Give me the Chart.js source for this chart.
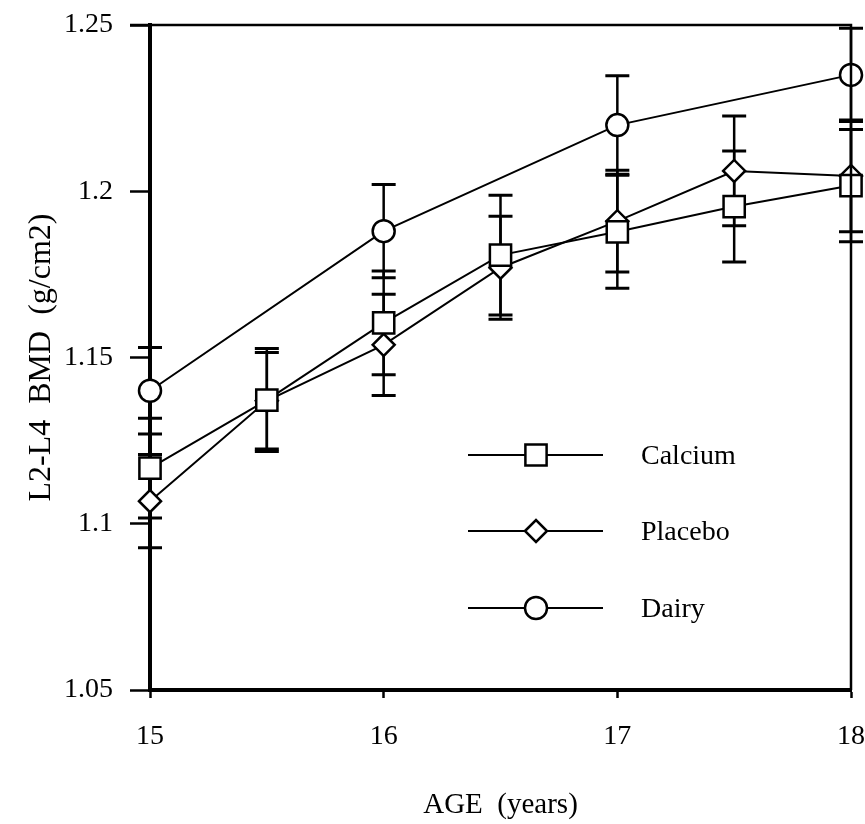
<!DOCTYPE html>
<html>
<head>
<meta charset="utf-8">
<script src="https://cdn.jsdelivr.net/npm/chart.js@4"></script>
<style>
  html, body { margin: 0; padding: 0; background: #fff; }
  #wrap { width: 865px; height: 824px; }
</style>
</head>
<body>
<div id="wrap"><canvas id="bmdChart" width="865" height="824"></canvas></div>
<script>
// values (age in years, L2-L4 BMD in g/cm2, +/- SE)
const ages = [15, 15.5, 16, 16.5, 17, 17.5, 18];
const dairyAges = [15, 16, 17, 18];
const calcium = [1.1167, 1.1372, 1.1604, 1.1808, 1.1878, 1.1954, 1.2017];
const calciumSE = [0.015, 0.0155, 0.0156, 0.018, 0.017, 0.0167, 0.0169];
const placebo = [1.1068, 1.137, 1.1538, 1.177, 1.191, 1.2061, 1.2046];
const placeboSE = [0.014, 0.0145, 0.0152, 0.0155, 0.0153, 0.0165, 0.0168];
const dairy = [1.140, 1.188, 1.2199, 1.235];
const dairySE = [0.013, 0.014, 0.0148, 0.014];
const seriesNames = ["Calcium", "Placebo", "Dairy"];
const xTicks = [15, 16, 17, 18];
const yTicks = [1.05, 1.1, 1.15, 1.2, 1.25];
const yTickLabels = ["1.05", "1.1", "1.15", "1.2", "1.25"];

const FONT = "'Liberation Serif', 'Times New Roman', serif";

function points(xs, ys) {
    return xs.map(function (x, i) { return { x: x, y: ys[i] }; });
}

// vertical SE bars with caps, drawn under the markers
const errorBars = {
    id: "errorBars",
    beforeDatasetsDraw: function (chart) {
        const ctx = chart.ctx;
        const xs = chart.scales.x, ys = chart.scales.y;
        ctx.save();
        ctx.strokeStyle = "#000";
        chart.data.datasets.forEach(function (ds) {
            ds.data.forEach(function (p, i) {
                const se = ds.se[i];
                const px = xs.getPixelForValue(p.x);
                const top = ys.getPixelForValue(p.y + se);
                const bot = ys.getPixelForValue(p.y - se);
                ctx.lineWidth = 2.5;
                ctx.beginPath();
                ctx.moveTo(px, top);
                ctx.lineTo(px, bot);
                ctx.stroke();
                ctx.lineWidth = 3;
                ctx.beginPath();
                ctx.moveTo(px - 12, top); ctx.lineTo(px + 12, top);
                ctx.moveTo(px - 12, bot); ctx.lineTo(px + 12, bot);
                ctx.stroke();
            });
        });
        ctx.restore();
    }
};

// top / right frame lines and the legend inside the plot
const frameAndLegend = {
    id: "frameAndLegend",
    afterDraw: function (chart) {
        const ctx = chart.ctx;
        const a = chart.chartArea;
        ctx.save();
        ctx.strokeStyle = "#000";
        ctx.lineWidth = 2.5;
        ctx.beginPath();
        ctx.moveTo(a.left - 20, a.top);
        ctx.lineTo(a.right, a.top);
        ctx.lineTo(a.right, a.bottom);
        ctx.stroke();

        const rows = [430, 506, 583];
        chart.data.datasets.forEach(function (ds, i) {
            const y = a.top + rows[i];
            const x0 = a.left + 318, x1 = a.left + 453, xm = a.left + 386;
            ctx.lineWidth = 2;
            ctx.strokeStyle = "#000";
            ctx.beginPath();
            ctx.moveTo(x0, y);
            ctx.lineTo(x1, y);
            ctx.stroke();
            ctx.fillStyle = "#fff";
            ctx.lineWidth = ds.pointBorderWidth;
            Chart.helpers.drawPoint(ctx, {
                pointStyle: ds.pointStyle,
                radius: ds.pointRadius,
                rotation: 0,
                borderWidth: ds.pointBorderWidth
            }, xm, y);
            ctx.fillStyle = "#000";
            ctx.font = "28px " + FONT;
            ctx.textAlign = "left";
            ctx.textBaseline = "middle";
            ctx.fillText(ds.label, a.left + 491, y + 2);
        });
        ctx.restore();
    }
};

function lineSet(label, xs, ys, se, style, radius) {
    return {
        label: label,
        data: points(xs, ys),
        se: se,
        borderColor: "#000",
        borderWidth: 2,
        tension: 0,
        pointStyle: style,
        pointRadius: radius,
        pointHoverRadius: radius,
        pointBackgroundColor: "#fff",
        pointBorderColor: "#000",
        pointBorderWidth: 2.5,
        clip: false
    };
}

document.addEventListener("DOMContentLoaded", function () {
    const ctx = document.getElementById("bmdChart");
    if (!ctx) return;

    new Chart(ctx, {
        type: "line",
        data: {
            datasets: [
                lineSet(seriesNames[0], ages, calcium, calciumSE, "rect", 15),
                lineSet(seriesNames[1], ages, placebo, placeboSE, "rectRot", 11),
                lineSet(seriesNames[2], dairyAges, dairy, dairySE, "circle", 11)
            ]
        },
        options: {
            responsive: false,
            animation: false,
            events: [],
            layout: {
                autoPadding: false,
                padding: { top: 25, right: 14, left: 0, bottom: 0 }
            },
            plugins: {
                legend: { display: false },
                tooltip: { enabled: false }
            },
            scales: {
                x: {
                    type: "linear",
                    min: 15,
                    max: 18,
                    afterFit: function (s) {
                        s.height = 134;
                        s.paddingLeft = 0;
                        s.paddingRight = 0;
                    },
                    afterBuildTicks: function (s) {
                        s.ticks = xTicks.map(function (v) { return { value: v }; });
                    },
                    ticks: {
                        color: "#000",
                        padding: 22,
                        maxRotation: 0,
                        font: { family: FONT, size: 28 },
                        callback: function (v) { return String(v); }
                    },
                    grid: {
                        drawOnChartArea: false,
                        drawTicks: true,
                        tickLength: 8,
                        tickWidth: 2.5,
                        tickColor: "#000"
                    },
                    border: { display: true, color: "#000", width: 4 },
                    title: {
                        display: true,
                        text: "AGE  (years)",
                        color: "#000",
                        font: { family: FONT, size: 29 },
                        padding: { top: 0, bottom: 1 }
                    }
                },
                y: {
                    type: "linear",
                    min: 1.05,
                    max: 1.25,
                    afterFit: function (s) {
                        s.width = 150;
                        s.paddingTop = 0;
                        s.paddingBottom = 0;
                    },
                    afterBuildTicks: function (s) {
                        s.ticks = yTicks.map(function (v) { return { value: v }; });
                    },
                    ticks: {
                        color: "#000",
                        padding: 17,
                        font: { family: FONT, size: 28 },
                        callback: function (v) {
                            const i = yTicks.findIndex(function (t) { return Math.abs(t - v) < 1e-9; });
                            return i >= 0 ? yTickLabels[i] : "";
                        }
                    },
                    grid: {
                        drawOnChartArea: false,
                        drawTicks: true,
                        tickLength: 20,
                        tickWidth: 2.5,
                        tickColor: "#000"
                    },
                    border: { display: true, color: "#000", width: 4 },
                    title: {
                        display: true,
                        text: "L2-L4  BMD  (g/cm2)",
                        color: "#000",
                        font: { family: FONT, size: 32 },
                        padding: { top: 22, bottom: 0 }
                    }
                }
            }
        },
        plugins: [errorBars, frameAndLegend]
    });
});
</script>
</body>
</html>
